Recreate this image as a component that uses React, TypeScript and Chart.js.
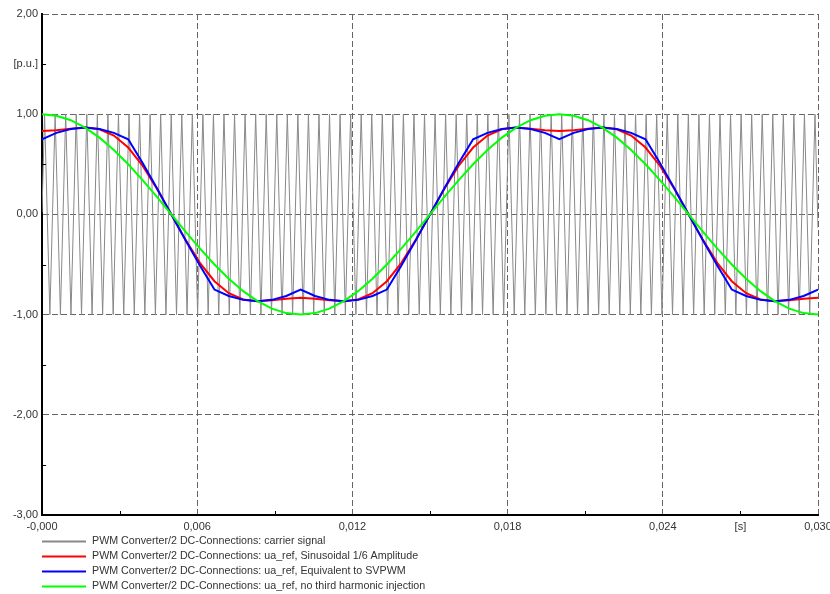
import React, { useEffect, useRef } from 'react';
import { Chart, registerables } from 'chart.js';

Chart.register(...registerables);

const FONT = '"Liberation Sans", Arial, Helvetica, sans-serif';

// Carrier triangle vertices (time in microseconds) and values [p.u.]
const carrierTimesUs = [
  0,
  100, 304, 508, 712, 916, 1120, 1324, 1528, 1732, 1936,
  2140, 2344, 2548, 2752, 2956, 3160, 3364, 3568, 3772, 3976,
  4180, 4384, 4588, 4792, 4996, 5200, 5404, 5608, 5812, 6016,
  6220, 6424, 6628, 6832, 7036, 7240, 7444, 7648, 7852, 8056,
  8260, 8464, 8668, 8872, 9076, 9280, 9484, 9688, 9892, 10096,
  10300, 10504, 10708, 10912, 11116, 11320, 11524, 11728, 11932, 12136,
  12340, 12544, 12748, 12952, 13156, 13360, 13564, 13768, 13972, 14176,
  14380, 14584, 14788, 14992, 15196, 15400, 15604, 15808, 16012, 16216,
  16420, 16624, 16828, 17032, 17236, 17440, 17644, 17848, 18052, 18256,
  18460, 18664, 18868, 19072, 19276, 19480, 19684, 19888, 20092, 20296,
  20500, 20704, 20908, 21112, 21316, 21520, 21724, 21928, 22132, 22336,
  22540, 22744, 22948, 23152, 23356, 23560, 23764, 23968, 24172, 24376,
  24580, 24784, 24988, 25192, 25396, 25600, 25804, 26008, 26212, 26416,
  26620, 26824, 27028, 27232, 27436, 27640, 27844, 28048, 28252, 28456,
  28660, 28864, 29068, 29272, 29476, 29680, 29884,
  30000,
];
const carrierValues = [
  0.02,
  1, -1, 1, -1, 1, -1, 1, -1, 1, -1,
  1, -1, 1, -1, 1, -1, 1, -1, 1, -1,
  1, -1, 1, -1, 1, -1, 1, -1, 1, -1,
  1, -1, 1, -1, 1, -1, 1, -1, 1, -1,
  1, -1, 1, -1, 1, -1, 1, -1, 1, -1,
  1, -1, 1, -1, 1, -1, 1, -1, 1, -1,
  1, -1, 1, -1, 1, -1, 1, -1, 1, -1,
  1, -1, 1, -1, 1, -1, 1, -1, 1, -1,
  1, -1, 1, -1, 1, -1, 1, -1, 1, -1,
  1, -1, 1, -1, 1, -1, 1, -1, 1, -1,
  1, -1, 1, -1, 1, -1, 1, -1, 1, -1,
  1, -1, 1, -1, 1, -1, 1, -1, 1, -1,
  1, -1, 1, -1, 1, -1, 1, -1, 1, -1,
  1, -1, 1, -1, 1, -1, 1, -1, 1, -1,
  1, -1, 1, -1, 1, -1, 1,
  -0.137,
];

// Reference signals, sample times in milliseconds
const refTimesMs = [
  0, 0.556, 1.111, 1.667, 2.222, 2.778, 3.333, 3.889, 4.444, 5.0,
  5.556, 6.111, 6.667, 7.222, 7.778, 8.333, 8.889, 9.444, 10.0,
  10.556, 11.111, 11.667, 12.222, 12.778, 13.333, 13.889, 14.444, 15.0,
  15.556, 16.111, 16.667, 17.222, 17.778, 18.333, 18.889, 19.444, 20.0,
  20.556, 21.111, 21.667, 22.222, 22.778, 23.333, 23.889, 24.444, 25.0,
  25.556, 26.111, 26.667, 27.222, 27.778, 28.333, 28.889, 29.444, 30.0,
];
const uaSinusoidal16 = [
  0.833, 0.841, 0.856, 0.866, 0.849, 0.787, 0.667, 0.486, 0.257, 0,
  -0.257, -0.486, -0.667, -0.787, -0.849, -0.866, -0.856, -0.841, -0.833,
  -0.841, -0.856, -0.866, -0.849, -0.787, -0.667, -0.486, -0.257, 0,
  0.257, 0.486, 0.667, 0.787, 0.849, 0.866, 0.856, 0.841, 0.833,
  0.841, 0.856, 0.866, 0.849, 0.787, 0.667, 0.486, 0.257, 0,
  -0.257, -0.486, -0.667, -0.787, -0.849, -0.866, -0.856, -0.841, -0.833,
];
const uaSvpwm = [
  0.75, 0.814, 0.853, 0.866, 0.853, 0.814, 0.75, 0.513, 0.26, 0,
  -0.26, -0.513, -0.75, -0.814, -0.853, -0.866, -0.853, -0.814, -0.75,
  -0.814, -0.853, -0.866, -0.853, -0.814, -0.75, -0.513, -0.26, 0,
  0.26, 0.513, 0.75, 0.814, 0.853, 0.866, 0.853, 0.814, 0.75,
  0.814, 0.853, 0.866, 0.853, 0.814, 0.75, 0.513, 0.26, 0,
  -0.26, -0.513, -0.75, -0.814, -0.853, -0.866, -0.853, -0.814, -0.75,
];
const uaNoThird = [
  1, 0.985, 0.94, 0.866, 0.766, 0.643, 0.5, 0.342, 0.174, 0,
  -0.174, -0.342, -0.5, -0.643, -0.766, -0.866, -0.94, -0.985, -1,
  -0.985, -0.94, -0.866, -0.766, -0.643, -0.5, -0.342, -0.174, 0,
  0.174, 0.342, 0.5, 0.643, 0.766, 0.866, 0.94, 0.985, 1,
  0.985, 0.94, 0.866, 0.766, 0.643, 0.5, 0.342, 0.174, 0,
  -0.174, -0.342, -0.5, -0.643, -0.766, -0.866, -0.94, -0.985, -1,
];

const seriesLabels = [
  'PWM Converter/2 DC-Connections: carrier signal',
  'PWM Converter/2 DC-Connections: ua_ref, Sinusoidal 1/6 Amplitude',
  'PWM Converter/2 DC-Connections: ua_ref, Equivalent to SVPWM',
  'PWM Converter/2 DC-Connections: ua_ref, no third harmonic injection',
];
const seriesColors = ['#888888', '#ff0000', '#0000ff', '#00ff00'];

const xTickValues = [0, 0.003, 0.006, 0.009, 0.012, 0.015, 0.018, 0.021, 0.024, 0.027, 0.03];
const xTickLabels = ['-0,000', '', '0,006', '', '0,012', '', '0,018', '', '0,024', '[s]', '0,030'];
const xTickMajor = [true, false, true, false, true, false, true, false, true, false, true];

const yTickValues = [-3, -2.5, -2, -1.5, -1, -0.5, 0, 0.5, 1, 1.5, 2];
const yTickLabels = ['-3,00', '', '-2,00', '', '-1,00', '', '0,00', '', '1,00', '[p.u.]', '2,00'];
const yTickMajor = [true, false, true, false, true, false, true, false, true, false, true];

const minorTicksPlugin = {
  id: 'minorTicks',
  afterDraw(chart: any) {
    const { ctx, chartArea, scales } = chart;
    ctx.save();
    ctx.strokeStyle = '#000';
    ctx.lineWidth = 1;
    ctx.beginPath();
    xTickValues.forEach((v, i) => {
      if (xTickMajor[i]) return;
      const px = Math.round(scales.x.getPixelForValue(v)) + 0.5;
      ctx.moveTo(px, chartArea.bottom);
      ctx.lineTo(px, chartArea.bottom - 4);
    });
    yTickValues.forEach((v, i) => {
      if (yTickMajor[i]) return;
      const py = Math.round(scales.y.getPixelForValue(v)) + 0.5;
      ctx.moveTo(chartArea.left, py);
      ctx.lineTo(chartArea.left + 4, py);
    });
    ctx.stroke();
    ctx.restore();
  },
};

const legendPlugin = {
  id: 'stackedLegend',
  afterDraw(chart: any) {
    const { ctx, chartArea } = chart;
    ctx.save();
    ctx.font = `10.7px ${FONT}`;
    ctx.textBaseline = 'middle';
    ctx.textAlign = 'left';
    chart.data.datasets.forEach((ds: any, row: number) => {
      const y = chartArea.bottom + 26.5 + row * 15;
      ctx.strokeStyle = ds.borderColor;
      ctx.lineWidth = 2;
      ctx.beginPath();
      ctx.moveTo(chartArea.left, y);
      ctx.lineTo(chartArea.left + 44, y);
      ctx.stroke();
      ctx.fillStyle = '#333';
      ctx.fillText(ds.label, chartArea.left + 50, y);
    });
    ctx.restore();
  },
};

export default function App() {
  const canvasRef = useRef<HTMLCanvasElement | null>(null);

  useEffect(() => {
    const canvas = canvasRef.current;
    if (!canvas) return;

    const carrierData = carrierTimesUs.map((t, i) => ({ x: t / 1e6, y: carrierValues[i] }));
    const mk = (vals: number[]) => refTimesMs.map((t, i) => ({ x: t / 1000, y: vals[i] }));

    const chart = new Chart(canvas, {
      type: 'line',
      data: {
        datasets: [
          { label: seriesLabels[0], data: carrierData, borderColor: seriesColors[0], borderWidth: 1, pointRadius: 0, tension: 0, order: 4 },
          { label: seriesLabels[1], data: mk(uaSinusoidal16), borderColor: seriesColors[1], borderWidth: 2, pointRadius: 0, tension: 0, order: 3 },
          { label: seriesLabels[2], data: mk(uaSvpwm), borderColor: seriesColors[2], borderWidth: 2, pointRadius: 0, tension: 0, order: 2 },
          { label: seriesLabels[3], data: mk(uaNoThird), borderColor: seriesColors[3], borderWidth: 2, pointRadius: 0, tension: 0, order: 1 },
        ],
      },
      options: {
        responsive: false,
        animation: false,
        layout: { padding: { left: 0, top: 14, right: 12, bottom: 0 } },
        plugins: { legend: { display: false }, tooltip: { enabled: false } },
        scales: {
          x: {
            type: 'linear',
            min: 0,
            max: 0.03,
            afterBuildTicks: (scale: any) => {
              scale.ticks = xTickValues.map((v) => ({ value: v }));
            },
            afterFit: (scale: any) => {
              scale.height = 79;
              scale.paddingLeft = 0;
              scale.paddingRight = 0;
            },
            ticks: {
              autoSkip: false,
              maxRotation: 0,
              padding: 5,
              color: '#333',
              font: { family: FONT, size: 11 },
              callback: (_v: any, i: number) => xTickLabels[i],
            },
            grid: {
              drawTicks: false,
              lineWidth: 1,
              color: (c: any) => (xTickMajor[c.index] ? '#666666' : 'rgba(0,0,0,0)'),
            },
            border: { display: true, color: '#000', width: 2, dash: [6, 3] },
          },
          y: {
            type: 'linear',
            min: -3,
            max: 2,
            afterBuildTicks: (scale: any) => {
              scale.ticks = yTickValues.map((v) => ({ value: v }));
            },
            afterFit: (scale: any) => {
              scale.width = 42;
              scale.paddingTop = 0;
              scale.paddingBottom = 0;
            },
            ticks: {
              autoSkip: false,
              padding: 4,
              color: '#333',
              font: { family: FONT, size: 11 },
              callback: (_v: any, i: number) => yTickLabels[i],
            },
            grid: {
              drawTicks: false,
              lineWidth: 1,
              color: (c: any) => (yTickMajor[c.index] ? '#666666' : 'rgba(0,0,0,0)'),
            },
            border: { display: true, color: '#000', width: 2, dash: [6, 3] },
          },
        },
      },
      plugins: [minorTicksPlugin, legendPlugin],
    } as any);

    return () => chart.destroy();
  }, []);

  return (
    <div style={{ position: 'absolute', left: 0, top: 0, width: 830, height: 594, background: '#fff' }}>
      <canvas ref={canvasRef} width={830} height={594} />
    </div>
  );
}
